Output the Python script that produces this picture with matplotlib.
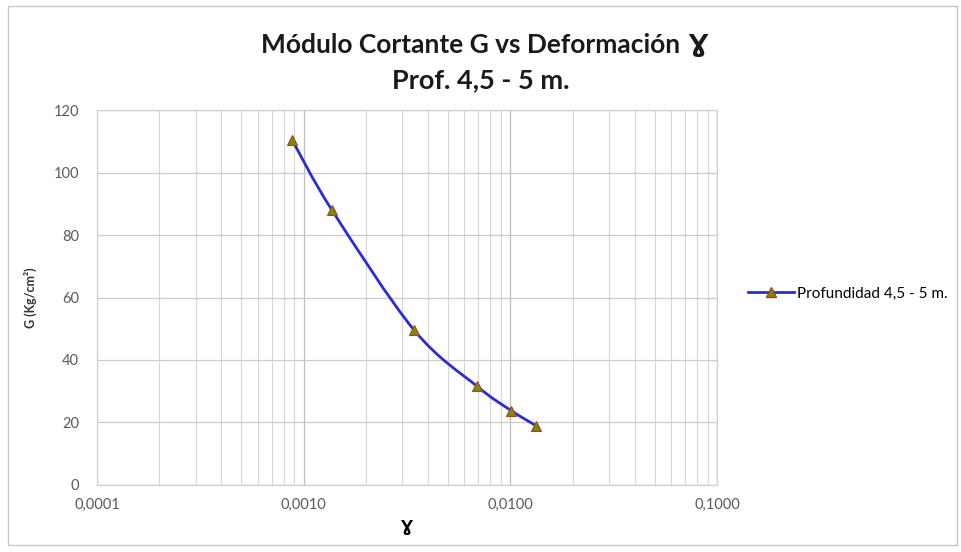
import numpy as np
import matplotlib
matplotlib.use("Agg")
import matplotlib.pyplot as plt
from matplotlib.path import Path
from matplotlib.patches import PathPatch, Rectangle
from matplotlib.ticker import FixedLocator, LogLocator, NullFormatter
from matplotlib.lines import Line2D

plt.rcParams["font.family"] = ["Lato", "DejaVu Sans"]

# data
gamma = [0.00088, 0.00137, 0.00342, 0.0069, 0.0101, 0.0133]
G = [110.4, 88.0, 49.6, 31.6, 23.8, 19.0]
series_name = "Profundidad 4,5 - 5 m."
xticks = [0.0001, 0.001, 0.01, 0.1]
xticklabels = ["0,0001", "0,0010", "0,0100", "0,1000"]
yticks = [0, 20, 40, 60, 80, 100, 120]

line_color = "#2b2bd6"
marker_face = "#7a8a0e"
marker_edge = "#a0481c"


def smooth_path(xs, ys):
    # Catmull-Rom style bezier through the points (log-x space), like Excel's smoothed line
    lx = np.log10(xs)
    ys = np.asarray(ys, float)
    n = len(lx)
    verts = [(lx[0], ys[0])]
    codes = [Path.MOVETO]
    for i in range(n - 1):
        i0 = max(i - 1, 0)
        i3 = min(i + 2, n - 1)
        c1 = (lx[i] + (lx[i + 1] - lx[i0]) / 6, ys[i] + (ys[i + 1] - ys[i0]) / 6)
        c2 = (lx[i + 1] - (lx[i3] - lx[i]) / 6, ys[i + 1] - (ys[i3] - ys[i]) / 6)
        verts += [c1, c2, (lx[i + 1], ys[i + 1])]
        codes += [Path.CURVE4] * 3
    verts = np.array(verts)
    verts[:, 0] = 10 ** verts[:, 0]
    return Path(verts, codes)


fig = plt.figure(figsize=(9.61, 5.52), dpi=100)
fig.patches.append(
    Rectangle((0.008, 0.012), 0.988, 0.978, transform=fig.transFigure,
              fill=False, edgecolor="#c8c8c8", lw=1)
)

ax = fig.add_axes([0.1009, 0.1214, 0.6452, 0.6793])
ax.set_xscale("log")
ax.set_xlim(0.0001, 0.1)
ax.set_ylim(0, 120)

ax.xaxis.set_major_locator(FixedLocator(xticks))
ax.xaxis.set_minor_locator(LogLocator(base=10, subs=np.arange(2, 10)))
ax.xaxis.set_minor_formatter(NullFormatter())
ax.set_xticks(xticks)
ax.set_xticklabels(xticklabels)
ax.set_yticks(yticks)

ax.grid(which="major", axis="x", color="#bdbdbd", lw=0.9)
ax.grid(which="minor", axis="x", color="#d6d6d6", lw=0.8)
ax.grid(which="major", axis="y", color="#cccccc", lw=0.9)
ax.set_axisbelow(True)

for s in ax.spines.values():
    s.set_color("#d0d0d0")
    s.set_linewidth(0.9)

ax.tick_params(which="both", length=0)
ax.tick_params(axis="x", labelsize=10.5, colors="#5a5a5a", pad=9)
ax.tick_params(axis="y", labelsize=10.5, colors="#5a5a5a", pad=13)

ax.add_patch(PathPatch(smooth_path(gamma, G), fill=False, edgecolor=line_color, lw=2.0, zorder=3))
ax.plot(gamma, G, linestyle="none", marker="^", markersize=7,
        markerfacecolor=marker_face, markeredgecolor=marker_edge, markeredgewidth=0.8, zorder=4)

ax.set_xlabel("Ɣ", fontsize=11, fontweight="bold", family="DejaVu Sans", labelpad=6)
ax.set_ylabel("G (Kg/cm²)", fontsize=9, fontweight="bold", color="#333333", labelpad=12)

# title: gamma drawn in DejaVu Sans, attached to the end of the first line
title = fig.text(0.49, 0.918, "Módulo Cortante G vs Deformación", ha="center", va="center",
                 fontsize=19, fontweight="bold", color="#1a1a1a")
ax.annotate(" Ɣ", xy=(1, 0.5), xycoords=title, ha="left", va="center",
            fontsize=18, fontweight="bold", color="#1a1a1a", family="DejaVu Sans",
            annotation_clip=False)
fig.text(0.5, 0.855, "Prof. 4,5 - 5 m.", ha="center", va="center",
         fontsize=19.5, fontweight="bold", color="#1a1a1a")

handle = Line2D([], [], color=line_color, lw=2.0, marker="^", markersize=7,
                markerfacecolor=marker_face, markeredgecolor=marker_edge)
fig.legend([handle], [series_name], loc="center left", bbox_to_anchor=(0.764, 0.468),
           frameon=False, fontsize=11, handlelength=3.0, handletextpad=0.2)

fig.savefig("out.png", dpi=100)
